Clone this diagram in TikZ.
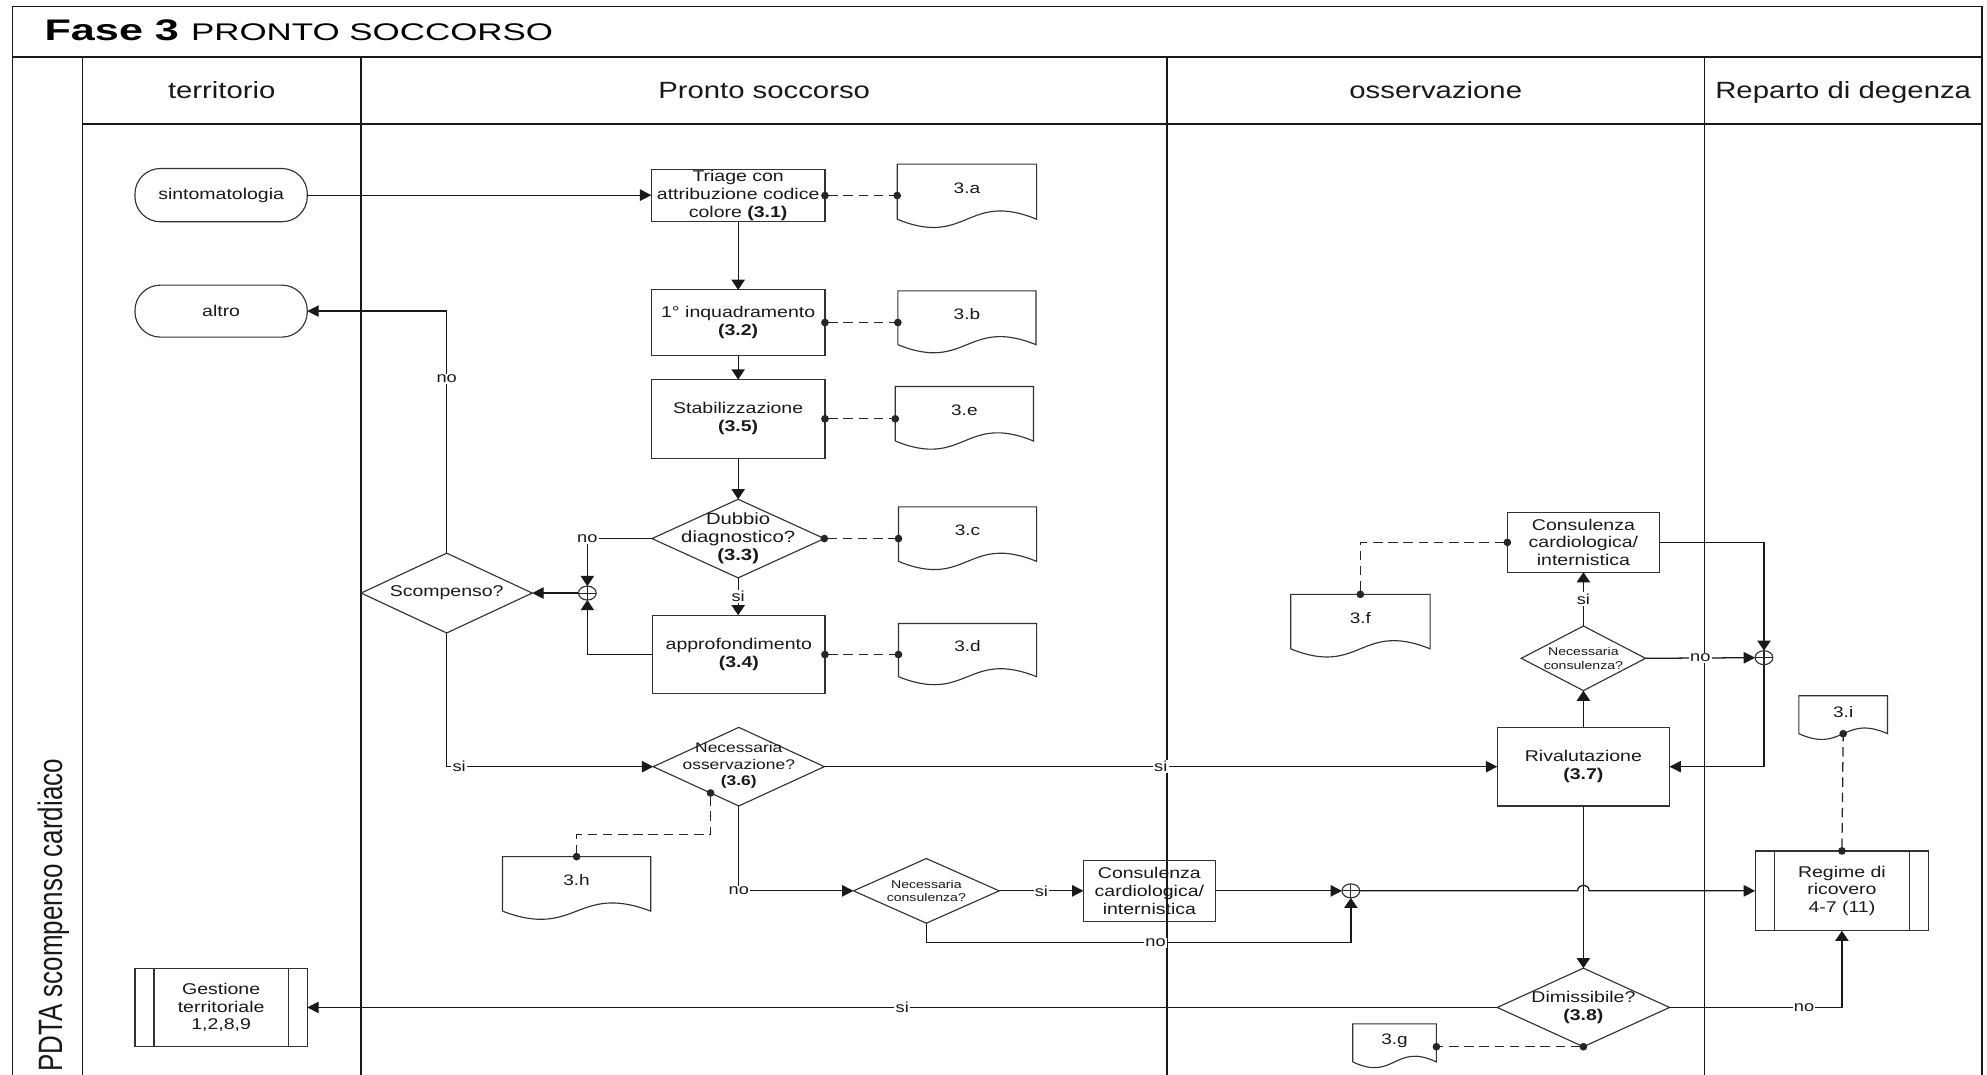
\documentclass[tikz,border=0pt]{standalone}
\usepackage{graphicx}
\usepackage{fontspec}
\setmainfont{Liberation Sans}[FakeStretch=1.25]
\newfontfamily\titlefont{Liberation Sans}[FakeStretch=1.45]
\newfontfamily\sidefont{Liberation Sans}
\usetikzlibrary{arrows.meta,shapes.geometric,calc}

\newcommand\txtbody{\fontsize{12.3}{14}\selectfont}
\newcommand\txtsmall{\fontsize{8.9}{10.5}\selectfont}
\newcommand\txtlbl{\fontsize{11.5}{13}\selectfont}
\newcommand\txthead{\fontsize{18.5}{22}\selectfont}

\tikzset{
  frameline/.style={draw=black!90, line width=1.3pt},
  shapeline/.style={draw=black!80, line width=0.9pt},
  box/.style={shapeline, rectangle, inner sep=0pt, outer sep=0pt, align=center, font=\txtbody, text=black!90},
  pill/.style={box, rounded corners=20pt},
  predef/.style={box, path picture={
      \draw[black!80, line width=0.9pt]
        ([xshift=15pt]path picture bounding box.north west) -- ([xshift=15pt]path picture bounding box.south west)
        ([xshift=-15pt]path picture bounding box.north east) -- ([xshift=-15pt]path picture bounding box.south east);}},
  decision/.style={shapeline, diamond, inner sep=0pt, outer sep=0pt},
  dtext/.style={align=center, font=\txtbody, text=black!90, inner sep=0pt},
  junction/.style={shapeline, ellipse, minimum width=14pt, minimum height=11pt, inner sep=0pt, outer sep=0pt,
      path picture={\draw[black!85, line width=0.8pt]
        (path picture bounding box.north) -- (path picture bounding box.south)
        (path picture bounding box.west) -- (path picture bounding box.east);}},
  docbase/.style={rectangle, draw=none, inner sep=0pt, outer sep=0pt},
  doctext/.style={font={\fontsize{12}{14}\selectfont}, text=black!90, inner sep=0pt},
  flow/.style={draw=black!90, line width=1pt},
  harrow/.style={-{Triangle[length=9pt,width=9pt]}},
  varrow/.style={-{Triangle[length=8pt,width=10.5pt]}},
  dashlink/.style={draw=black!85, line width=1pt, dash pattern=on 7.5pt off 4.5pt,
      {Circle[length=6pt]}-{Circle[length=6pt]}, shorten <=-3pt, shorten >=-3pt},
  lbl/.style={fill=white, inner sep=1pt, font=\txtlbl, text=black!90},
  hdr/.style={anchor=base, font=\txthead, text=black!90, inner sep=0pt},
}

% document symbol: name, centre x, top y, width, height (to the wave), text
\newcommand\docnode[6]{%
  \node[docbase, minimum width=#4pt, minimum height=#5pt] (#1) at (#2,{#3+#5/2}) {};
  \draw[shapeline] (#1.south west) -- (#1.north west) -- (#1.north east) -- (#1.south east)
     .. controls ($(#1.south)+(0,{-0.52*#5})$) and ($(#1.south)+(0,{0.52*#5})$) .. (#1.south west);
  \node[doctext] (#1-t) at ($(#1.north)+(0,{0.43*#5})$) {#6};
}

\begin{document}
\begin{tikzpicture}[x=1pt,y=-1pt]
\useasboundingbox (0,0) rectangle (1568,848);

% frame, title bar, header row and swimlanes
\draw[frameline] (10,850) -- (10,5) -- (1564,5) -- (1564,850);
\draw[frameline] (10,45) -- (1564,45);
\draw[frameline] (65,98) -- (1564,98);
\foreach \lx in {65,285,921,1345} \draw[frameline] (\lx,45) -- (\lx,850);

\node[anchor=base west, inner sep=0pt, text=black] (title) at (35,31.6)
  {\titlefont\fontsize{23.5}{26}\selectfont\bfseries Fase 3 \fontsize{19}{22}\selectfont\mdseries PRONTO SOCCORSO};

\node[hdr] (hd-terr) at (175,77.6) {territorio};
\node[hdr] (hd-ps) at (603,77.6) {Pronto soccorso};
\node[hdr] (hd-oss) at (1133,77.6) {osservazione};
\node[hdr] (hd-rep) at (1454.5,77.6) {Reparto di degenza};

\node[rotate=90, anchor=base west, inner sep=0pt, text=black!90] (side) at (49,846)
  {\sidefont\scalebox{1}[1.3]{\fontsize{20.5}{24}\selectfont PDTA scompenso cardiaco}};

% territorio
\node[pill, minimum width=136pt, minimum height=42pt] (sint) at (174.5,154) {sintomatologia};
\node[pill, minimum width=136pt, minimum height=41pt] (altro) at (174.5,245.5) {altro};
\node[predef, minimum width=136pt, minimum height=62pt] (gest) at (174.5,795) {Gestione\\territoriale\\1,2,8,9};

% pronto soccorso
\node[box, minimum width=137pt, minimum height=41.5pt] (triage) at (582.5,154.3)
  {Triage con\\attribuzione codice\\colore \textbf{(3.1)}};
\node[box, minimum width=137pt, minimum height=51.5pt] (inq) at (582.5,254.5)
  {1° inquadramento\\\textbf{(3.2)}};
\node[box, minimum width=137pt, minimum height=62pt] (stab) at (582.5,330.5)
  {Stabilizzazione\\\textbf{(3.5)}};
\node[decision, minimum width=136pt, minimum height=62pt] (dubbio) at (582.5,425) {};
\node[dtext, font={\fontsize{12.8}{14.2}\selectfont}] (dubbio-t) at (dubbio.center)
  {Dubbio\\diagnostico?\\\textbf{(3.3)}};
\node[box, minimum width=136pt, minimum height=62pt] (appr) at (583,516.5)
  {approfondimento\\\textbf{(3.4)}};
\node[junction] (j1) at (463.5,468) {};
\node[decision, minimum width=135pt, minimum height=63pt] (scomp) at (352.5,468) {};
\node[dtext] (scomp-t) at (scomp.center) {Scompenso?};
\node[decision, minimum width=135pt, minimum height=62pt] (nossv) at (583,605) {};
\node[dtext, font={\fontsize{11}{13}\selectfont}] (nossv-t) at ($(nossv.center)+(0,-1)$)
  {Necessaria\\osservazione?\\\textbf{(3.6)}};
\node[decision, minimum width=115pt, minimum height=51pt] (ncons1) at (731,703) {};
\node[dtext, font=\txtsmall] (ncons1-t) at (ncons1.center) {Necessaria\\consulenza?};
\node[box, minimum width=104pt, minimum height=48pt] (cons1) at (907,703)
  {Consulenza\\cardiologica/\\internistica};

\docnode{a}{763}{129.5}{110}{43.5}{3.a}
\docnode{b}{763}{229.5}{109}{42.5}{3.b}
\docnode{e}{761}{305}{109}{43}{3.e}
\docnode{c}{763.5}{400}{109}{43}{3.c}
\docnode{d}{763.5}{492}{109}{42}{3.d}
\docnode{h}{455}{676}{117}{43}{3.h}

% osservazione
\node[junction] (j2) at (1066,703) {};
\node[box, minimum width=136pt, minimum height=62pt] (rival) at (1249.5,605)
  {Rivalutazione\\\textbf{(3.7)}};
\node[decision, minimum width=98pt, minimum height=51pt] (ncons2) at (1249.5,519.5) {};
\node[dtext, font=\txtsmall] (ncons2-t) at (ncons2.center) {Necessaria\\consulenza?};
\node[box, minimum width=120pt, minimum height=47pt] (cons2) at (1249.5,428)
  {Consulenza\\cardiologica/\\internistica};
\node[junction] (j3) at (1392,519) {};
\node[decision, minimum width=136pt, minimum height=62pt] (dimiss) at (1249.5,795) {};
\node[dtext] (dimiss-t) at (dimiss.center) {Dimissibile?\\\textbf{(3.8)}};

\docnode{f}{1073.5}{469}{110}{43}{3.f}
\docnode{g}{1100.5}{808}{66}{30}{3.g}

% reparto di degenza
\node[predef, minimum width=137pt, minimum height=63pt] (regime) at (1453.5,703)
  {Regime di\\ricovero\\4-7 (11)};
\docnode{i}{1454.5}{549}{70}{30}{3.i}

% flow connectors
\draw[flow, harrow] (sint.east) -- (sint.east -| triage.west);
\draw[flow, varrow] (triage.south) -- (triage.south |- inq.north);
\draw[flow, varrow] (inq.south) -- (inq.south |- stab.north);
\draw[flow, varrow] (stab.south) -- (stab.south |- dubbio.north);
\draw[flow, varrow] (dubbio.west) -| node[lbl] {no} (j1.north);
\draw[flow, varrow] (dubbio.south) -- node[lbl] {si} (dubbio.south |- appr.north);
\draw[flow, varrow] (appr.west) -| (j1.south);
\draw[flow, harrow] (j1.west) -- (scomp.east);
\draw[flow, harrow] (scomp.north) |- node[lbl, pos=0.36] {no} (altro.east);
\draw[flow, harrow] (scomp.south) |- node[lbl, pos=0.53] {si} (nossv.west);
\draw[flow, harrow] (nossv.east) -- node[lbl] {si} (rival.west);
\draw[flow, harrow] (nossv.south) |- node[lbl] {no} (ncons1.west);
\draw[flow, harrow] (ncons1.east) -- node[lbl] {si} (cons1.west);
\draw[flow, harrow] (cons1.east) -- (j2.west);
\draw[flow, varrow] (ncons1.south) -- ++(0,15.5) -| node[lbl, pos=0.27] {no} (j2.south);
\draw[flow, harrow] (j2.east) -- ($(rival.south |- j2.east)+(-4.5,0)$)
  .. controls +(0,-6) and +(0,-6) .. ($(rival.south |- j2.east)+(4.5,0)$) -- (regime.west);
\draw[flow, varrow] (rival.north) -- (ncons2.south);
\draw[flow, varrow] (ncons2.north) -- node[lbl] {si} (cons2.south);
\draw[flow, harrow] (ncons2.east) -- node[lbl] {no} (j3.west);
\draw[flow, varrow] (cons2.east) -| (j3.north);
\draw[flow, harrow] (j3.south) |- (rival.east);
\draw[flow, varrow] (rival.south) -- (dimiss.north);
\draw[flow, harrow] (dimiss.west) -- node[lbl] {si} (dimiss.west -| gest.east);
\draw[flow, varrow] (dimiss.east) -| node[lbl, pos=0.39] {no} (regime.south);

% dashed links to the documents
\draw[dashlink] (triage.east) -- (triage.east -| a.west);
\draw[dashlink] (inq.east) -- (inq.east -| b.west);
\draw[dashlink] (stab.east) -- (stab.east -| e.west);
\draw[dashlink] (dubbio.east) -- (dubbio.east -| c.west);
\draw[dashlink] (appr.east) -- (appr.east -| d.west);
\draw[dashlink] (cons2.west) -| (f.north);
\coordinate (hp) at ($(nossv.south)!0.33!(nossv.west)$);
\draw[dashlink] (hp) -- ++(0,33) -| (h.north);
\draw[dashlink] (regime.north) -- (i.south);
\draw[dashlink] (dimiss.south) -- (dimiss.south -| g.east);
\end{tikzpicture}
\end{document}
